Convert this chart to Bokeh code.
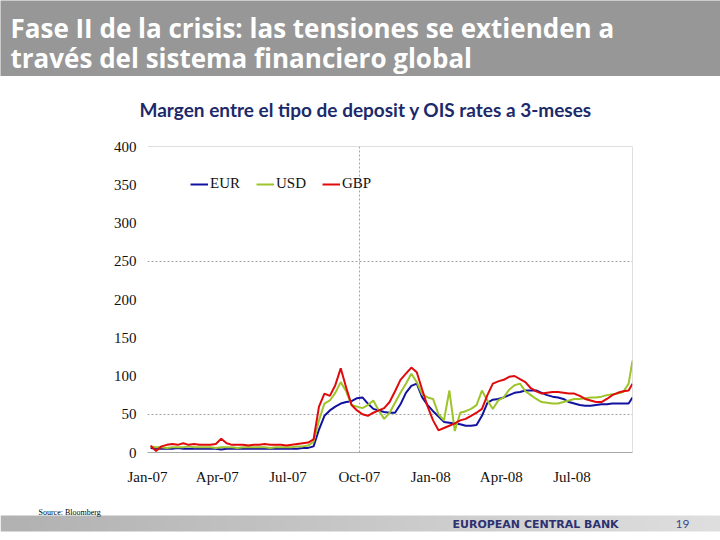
import pandas as pd
from bokeh.plotting import figure
from bokeh.layouts import column
from bokeh.models import FixedTicker, Range1d, Span, Legend, LegendItem
from bokeh.core.properties import value
from bokeh.embed import file_html
from bokeh.resources import INLINE

# ---------------- data ----------------
dates = list(pd.date_range("2007-01-05", "2008-09-12", freq="7D")) + [pd.Timestamp("2008-09-17")]

eur = [6, 5, 5, 5, 5, 6, 5, 5, 5, 5, 5, 5, 5, 4, 5, 5, 5, 5, 5, 5,
       5, 5, 5, 5, 5, 5, 5, 5, 6, 6,
       8, 30, 48, 55, 60, 64, 66, 67, 71, 72,
       64, 57, 55, 53, 52, 52, 63, 78, 87, 90,
       72, 62, 54, 47, 40, 39, 38, 37, 35, 35,
       36, 48, 65, 69, 70, 72, 75, 78, 79, 81,
       81, 81, 78, 75, 73, 72, 70, 66, 64, 62,
       61, 61, 62, 63, 63, 64, 64, 64, 64, 72]

usd = [8, 7, 7, 6, 7, 7, 7, 8, 7, 7, 7, 7, 6, 7, 7, 7, 6, 7, 7, 7,
       7, 7, 6, 7, 7, 7, 7, 8, 8, 9,
       14, 42, 64, 68, 78, 92, 80, 62, 60, 58,
       62, 68, 55, 44, 52, 65, 78, 90, 103, 92,
       76, 72, 70, 50, 42, 81, 28, 52, 54, 57,
       62, 81, 68, 57, 68, 72, 82, 88, 90, 80,
       75, 70, 66, 65, 64, 64, 66, 68, 70, 70,
       71, 72, 72, 73, 75, 76, 77, 79, 90, 120]

gbp = [9, 2, 8, 10, 11, 10, 12, 10, 11, 10, 10, 10, 11, 18, 12, 10, 10, 10, 9, 10,
       10, 11, 10, 10, 10, 9, 10, 11, 12, 13,
       17, 60, 77, 74, 88, 110, 85, 62, 55, 50,
       48, 52, 55, 58, 66, 80, 95, 103, 111, 105,
       82, 60, 42, 29, 32, 35, 38, 42, 44, 48,
       52, 57, 75, 90, 93, 95, 99, 100, 96, 92,
       84, 80, 77, 78, 79, 79, 78, 77, 77, 74,
       70, 68, 66, 66, 70, 75, 78, 80, 81, 90]

series_names = ["EUR", "USD", "GBP"]
series_colors = ["#1212A2", "#9DC42A", "#E00A0A"]

y_ticks = [0, 50, 100, 150, 200, 250, 300, 350, 400]
x_tick_dates = ["2007-01-01", "2007-04-01", "2007-07-01", "2007-10-01",
                "2008-01-01", "2008-04-01", "2008-07-01"]
x_tick_labels = ["Jan-07", "Apr-07", "Jul-07", "Oct-07", "Jan-08", "Apr-08", "Jul-08"]

title_lines = ["Fase II de la crisis: las tensiones se extienden a",
               "través del sistema financiero global"]
subtitle = "Margen entre el tipo de deposit y OIS rates a 3-meses"

W = 720

def ms(d):
    return pd.Timestamp(d).value / 1e6

def blank_fig(h, bg):
    f = figure(width=W, height=h, x_range=Range1d(0, W), y_range=Range1d(h, 0),
               toolbar_location=None, output_backend="svg", min_border=0,
               x_axis_location=None, y_axis_location=None)
    f.frame_align = False
    f.background_fill_color = bg
    f.border_fill_color = bg
    f.outline_line_color = None
    f.grid.visible = False
    return f

# ---------------- banner ----------------
banner = blank_fig(76, "#979797")
banner.text(x=[10, 10], y=[27, 57], text=title_lines, text_font=value("Open Sans"),
            text_font_style="bold", text_font_size="26px", text_color="white",
            text_baseline="alphabetic", text_align="left")

# ---------------- subtitle strip ----------------
sub = blank_fig(50, "white")
sub.text(x=[139], y=[33], text=[subtitle], text_font=value("Lato"),
         text_font_style="bold", text_font_size="19px", text_color="#1C2A6B",
         text_baseline="middle", text_align="left")

# ---------------- main chart ----------------
p = figure(width=W, height=379, x_axis_type="datetime",
           x_range=Range1d(ms("2007-01-01"), ms("2008-09-17")), y_range=Range1d(0, 400),
           toolbar_location=None, output_backend="svg",
           min_border_left=147, min_border_right=88, min_border_top=20, min_border_bottom=53)
p.frame_align = False
p.outline_line_color = None
p.background_fill_color = "white"
p.border_fill_color = "white"

x_ms = [ms(d) for d in dates]
renderers = []
for vals, col in zip([eur, usd, gbp], series_colors):
    r = p.line(x_ms, vals, line_color=col, line_width=2)
    renderers.append(r)

tick_ms = [ms(d) for d in x_tick_dates]
p.xaxis.ticker = FixedTicker(ticks=tick_ms)
p.xaxis.major_label_overrides = {t: lab for t, lab in zip(tick_ms, x_tick_labels)}
p.yaxis.ticker = FixedTicker(ticks=y_ticks)

for ax in (p.xaxis[0], p.yaxis[0]):
    ax.major_label_text_font = "Liberation Serif"
    ax.major_label_text_font_size = "15px"
    ax.major_label_text_color = "#111111"
    ax.major_tick_line_color = None
    ax.minor_tick_line_color = None
    ax.major_tick_out = 0
    ax.major_tick_in = 0
p.xaxis.axis_line_color = "#A8A8A8"
p.yaxis.axis_line_color = None
p.xaxis.major_label_standoff = 16
p.yaxis.major_label_standoff = 11

p.ygrid.ticker = FixedTicker(ticks=[50, 250])
p.xgrid.ticker = FixedTicker(ticks=[ms("2007-10-01")])
for g in (p.xgrid[0], p.ygrid[0]):
    g.grid_line_color = "#A0A0A0"
    g.grid_line_dash = "2 2"
    g.grid_line_width = 1

p.add_layout(Span(location=400, dimension="width", line_color="#BEBEBE", line_width=1))
p.add_layout(Span(location=ms("2008-09-17"), dimension="height", line_color="#BEBEBE", line_width=1))

legend = Legend(items=[LegendItem(label=n, renderers=[r]) for n, r in zip(series_names, renderers)],
                location=(43, 260), orientation="horizontal",
                glyph_width=18, glyph_height=16, label_standoff=2, spacing=16,
                padding=0, margin=0, border_line_color=None, background_fill_alpha=0,
                label_text_font="Liberation Serif", label_text_font_size="15px",
                label_text_color="#111111")
p.add_layout(legend)

# ---------------- footer ----------------
foot = blank_fig(35, "white")
nseg = 48
seg_w = W / nseg
lefts = [i * seg_w for i in range(nseg)]
cols = []
for i in range(nseg):
    f = i / (nseg - 1)
    c = int(178 + f * (222 - 178))
    cols.append("#%02x%02x%02x" % (c, c, c))
foot.quad(left=lefts, right=[l + seg_w + 0.5 for l in lefts], top=[10] * nseg, bottom=[26] * nseg,
          fill_color=cols, line_color=None)
foot.text(x=[38], y=[6.5], text=["Source: Bloomberg"], text_font=value("Liberation Serif"),
          text_font_size="8px", text_color="#000000", text_baseline="middle")
foot.text(x=[452], y=[18.5], text=["EUROPEAN CENTRAL BANK"], text_font=value("DejaVu Sans"),
          text_font_style="bold", text_font_size="11px", text_color="#2E3170",
          text_baseline="middle")
foot.text(x=[675], y=[18], text=["19"], text_font=value("Lato"),
          text_font_size="12px", text_color="#3B4A8E", text_baseline="middle")

layout = column(banner, sub, p, foot)
open("out.html", "w").write(file_html(layout, INLINE))
